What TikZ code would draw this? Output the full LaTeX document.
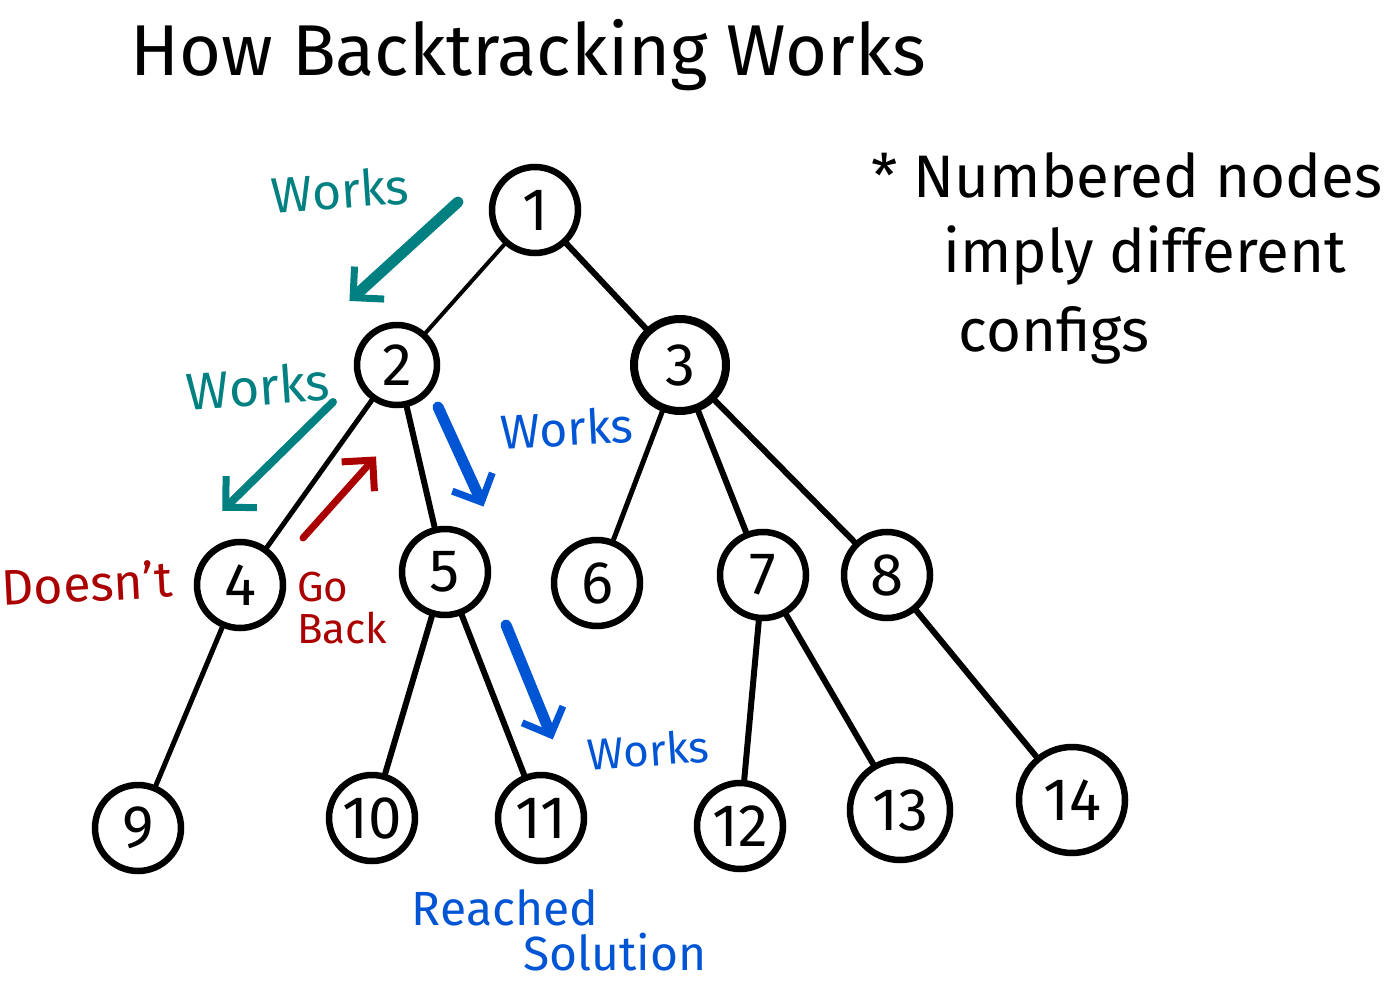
\documentclass[tikz,border=0pt]{standalone}
\usepackage{fontspec}
\setmainfont{Fira Sans}
\usetikzlibrary{arrows.meta}
\definecolor{teal1}{RGB}{0,128,128}
\definecolor{blue1}{RGB}{0,85,212}
\definecolor{red1}{RGB}{170,0,0}
\newcommand{\hand}[1]{\fontsize{#1}{#1}\selectfont}

\begin{document}
\begin{tikzpicture}[x=1pt, y=-1pt, >={Straight Barb[length=22pt, width=44pt, line width=7pt]}, line cap=round,
  state/.style={circle, draw, line width=6.5pt, minimum size=86pt, inner sep=0pt, font=\hand{60}},
  branch/.style={line width=6pt},
  hint/.style={->, line width=11pt, shorten >=6pt}]
%
\useasboundingbox (0,0) rectangle (1395,992);
%
\node[font=\hand{72}] (title) at (528,55) {How Backtracking Works};
%
\node (n1) [state] at (535,210) {1};
\node (n2) [state, minimum size=80pt] at (397,365) {2};
\node (n3) [state, minimum size=92pt, line width=8pt] at (680,365) {3};
\node (n4) [state] at (240,585) {4};
\node (n5) [state] at (445,572) {5};
\node (n6) [state] at (597,583) {6};
\node (n7) [state] at (763,575) {7};
\node (n8) [state] at (887,575) {8};
\node (n9) [state] at (138,828) {9};
\node (n10) [state] at (372,818) {10};
\node (n11) [state] at (541,818) {11};
\node (n12) [state] at (740,826) {12};
\node (n13) [state, minimum size=100pt] at (900,810) {13};
\node (n14) [state, minimum size=106pt] at (1072,800) {14};
%
\path[branch] (n1) edge[line width=4pt] (n2);
\path[branch] (n1) edge (n3);
\path[branch] (n2) edge[line width=5pt] (n4);
\path[branch] (n2) edge (n5);
\path[branch] (n3) edge[line width=5pt] (n6);
\path[branch] (n3) edge (n7);
\path[branch] (n3) edge (n8);
\path[branch] (n4) edge[line width=5pt] (n9);
\path[branch] (n5) edge (n10);
\path[branch] (n5) edge (n11);
\path[branch] (n7) edge (n12);
\path[branch] (n7) edge (n13);
\path[branch] (n8) edge (n14);
%
\coordinate (a1s) at (458,202);
\coordinate (a1e) at (345,305);
\coordinate (a2s) at (333,402);
\coordinate (a2e) at (218,515);
\coordinate (a3s) at (438,407);
\coordinate (a3e) at (486,512);
\coordinate (a4s) at (303,538);
\coordinate (a4e) at (380,452);
\coordinate (a5s) at (506,625);
\coordinate (a5e) at (555,745);
\draw[hint, teal1] (a1s) -- (a1e);
\draw[hint, teal1, line width=8pt] (a2s) -- (a2e);
\draw[hint, blue1] (a3s) -- (a3e);
\draw[hint, red1, line width=7pt] (a4s) -- (a4e);
\draw[hint, blue1] (a5s) -- (a5e);
%
\node[teal1, font=\hand{50}, rotate=4] (w1) at (340,190) {Works};
\node[teal1, font=\hand{52}, rotate=4] (w2) at (258,386) {Works};
\node[blue1, font=\hand{48}, rotate=3] (w3) at (567,428) {Works};
\node[blue1, font=\hand{44}, rotate=4] (w4) at (648,750) {Works};
\node[red1, font=\hand{50}, rotate=3] (doesnt) at (87,583) {Doesn't};
\node[red1, font=\hand{42}, align=left] (goback) at (342,608) {Go\\Back};
\node[blue1, font=\hand{48}] (reached) at (505,908) {Reached};
\node[blue1, font=\hand{48}] (solution) at (615,952) {Solution};
%
\node[anchor=west, font=\hand{60}] (note1) at (868,175) {* Numbered nodes};
\node[anchor=west, font=\hand{60}] (note2) at (940,255) {imply different};
\node[anchor=west, font=\hand{60}] (note3) at (955,335) {configs};
\end{tikzpicture}
\end{document}
